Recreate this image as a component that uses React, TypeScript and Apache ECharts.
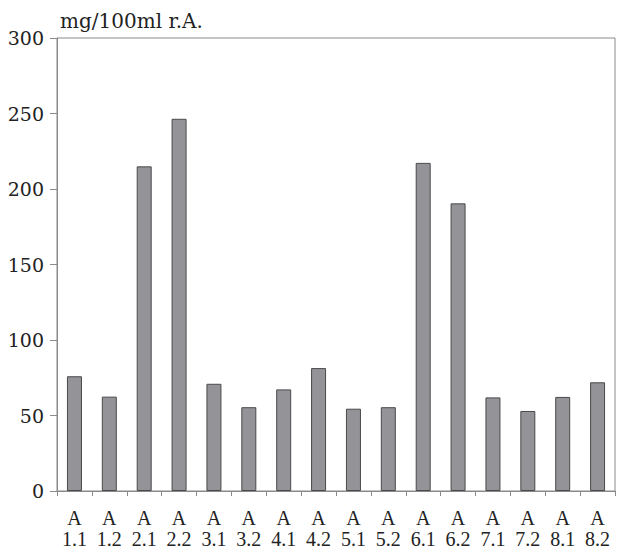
import React, { useEffect, useRef } from "react";
import * as echarts from "echarts";

const categories = ["A\n1.1", "A\n1.2", "A\n2.1", "A\n2.2", "A\n3.1", "A\n3.2", "A\n4.1", "A\n4.2", "A\n5.1", "A\n5.2", "A\n6.1", "A\n6.2", "A\n7.1", "A\n7.2", "A\n8.1", "A\n8.2"];
const values = [76, 62.5, 215, 246.5, 71, 55.5, 67.3, 81.4, 54.5, 55.5, 217.3, 190.5, 62, 53, 62.3, 72];
const unitLabel = "mg/100ml r.A.";

const SERIF_WIDE = "'DejaVu Serif', 'Liberation Serif', serif";
const SERIF = "'Liberation Serif', 'DejaVu Serif', serif";

export default function App() {
  const ref = useRef<HTMLDivElement>(null);
  useEffect(() => {
    if (!ref.current) return;
    const chart = echarts.init(ref.current, undefined, { renderer: "svg" });
    chart.setOption({
      animation: false,
      backgroundColor: "#ffffff",
      title: {
        text: unitLabel,
        left: 55,
        top: 6,
        textStyle: { fontFamily: SERIF_WIDE, fontSize: 20, fontWeight: "normal", color: "#222" },
      },
      grid: {
        left: 57,
        top: 38,
        right: 6,
        bottom: 63,
        show: true,
        borderColor: "#8a8a8a",
        borderWidth: 1,
        backgroundColor: "transparent",
      },
      xAxis: {
        type: "category",
        data: categories,
        axisLine: { show: true, lineStyle: { color: "#8a8a8a", width: 1 } },
        axisTick: { show: true, length: 5, lineStyle: { color: "#8a8a8a" } },
        axisLabel: {
          fontFamily: SERIF,
          fontSize: 20,
          color: "#222",
          lineHeight: 21,
          margin: 16,
          interval: 0,
        },
      },
      yAxis: {
        type: "value",
        min: 0,
        max: 300,
        interval: 50,
        splitLine: { show: false },
        axisLine: { show: true, lineStyle: { color: "#8a8a8a", width: 1 } },
        axisTick: { show: true, length: 7, lineStyle: { color: "#8a8a8a" } },
        axisLabel: { fontFamily: SERIF_WIDE, fontSize: 19, color: "#222", margin: 13 },
      },
      series: [
        {
          type: "bar",
          data: values,
          barWidth: 15,
          itemStyle: { color: "#939398", borderColor: "#4a4a4a", borderWidth: 1 },
        },
      ],
    });
    return () => chart.dispose();
  }, []);
  return (
    <div
      ref={ref}
      style={{ position: "absolute", left: 0, top: 0, width: 621, height: 554 }}
    />
  );
}
